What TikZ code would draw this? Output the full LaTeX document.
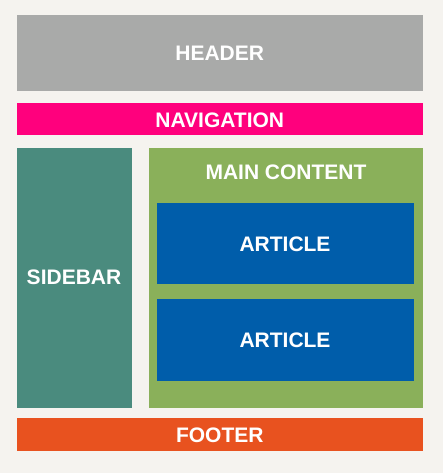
\documentclass[tikz,border=0pt]{standalone}
\usepackage{fontspec}
\setmainfont{Liberation Sans}
\definecolor{bgc}{HTML}{F5F3EF}
\definecolor{hdr}{HTML}{A9AAA9}
\definecolor{nav}{HTML}{FF007D}
\definecolor{side}{HTML}{4A8B7E}
\definecolor{mainc}{HTML}{8AB05A}
\definecolor{art}{HTML}{005DAA}
\definecolor{foot}{HTML}{E8521F}
\begin{document}
\begin{tikzpicture}[x=1pt,y=-1pt,
  lbl/.style={text=white,font=\fontsize{21}{25}\selectfont\bfseries,inner sep=0pt}]
\fill[bgc] (0,0) rectangle (443,473);
\useasboundingbox (0,0) rectangle (443,473);
\fill[hdr] (16.5,15) rectangle (423,91);
\node[lbl] (header) at (219.75,53.5) {HEADER};
\fill[nav] (16.5,103) rectangle (423,135);
\node[lbl] (nav) at (219.75,120) {NAVIGATION};
\fill[side] (16.5,148) rectangle (131.5,407.5);
\node[lbl] (sidebar) at (74,277.5) {SIDEBAR};
\fill[mainc] (149,148) rectangle (423,407.5);
\node[lbl] (main) at (286,172.5) {MAIN CONTENT};
\fill[art] (156.5,203) rectangle (413.5,284);
\node[lbl] (art1) at (285,244.5) {ARTICLE};
\fill[art] (156.5,299) rectangle (413.5,380.5);
\node[lbl] (art2) at (285,340.5) {ARTICLE};
\fill[foot] (16.5,418) rectangle (423,451);
\node[lbl] (footer) at (219.75,435.5) {FOOTER};
\end{tikzpicture}
\end{document}
